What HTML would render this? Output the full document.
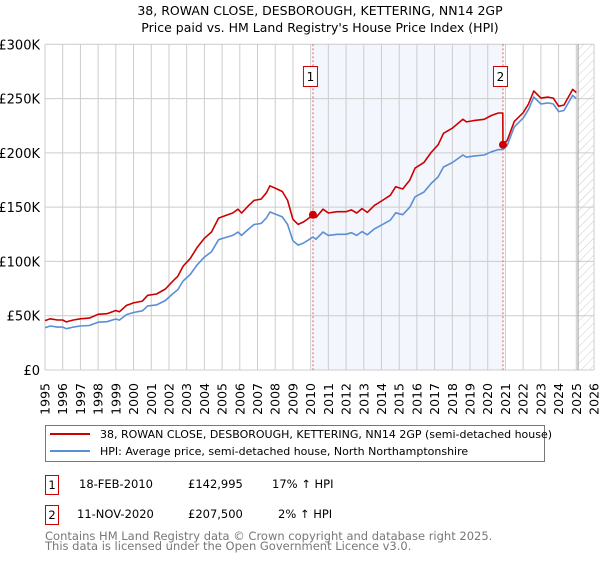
<!DOCTYPE html>
<html><head><meta charset="utf-8"><style>
body{margin:0;background:#fff;font-family:"Liberation Sans","DejaVu Sans",sans-serif;}
svg text{font-family:"DejaVu Sans","Liberation Sans",sans-serif;}
</style></head><body>
<svg width="600" height="560" xmlns="http://www.w3.org/2000/svg">
<defs><pattern id="hatch" width="6" height="6" patternUnits="userSpaceOnUse" patternTransform="rotate(45)"><line x1="0" y1="0" x2="0" y2="6" stroke="#ccc" stroke-width="1"/></pattern></defs>
<text x="320" y="15" text-anchor="middle" font-size="12.5">38, ROWAN CLOSE, DESBOROUGH, KETTERING, NN14 2GP</text>
<text x="320" y="32" text-anchor="middle" font-size="12.5">Price paid vs. HM Land Registry's House Price Index (HPI)</text>
<g id="plot"></g>
<g>
<rect x="45.5" y="425.5" width="499" height="36" fill="#fff" stroke="#777"/>
<line x1="50" y1="434" x2="90" y2="434" stroke="#cc0000" stroke-width="2"/>
<text x="100" y="438" font-size="11">38, ROWAN CLOSE, DESBOROUGH, KETTERING, NN14 2GP (semi-detached house)</text>
<line x1="50" y1="451" x2="90" y2="451" stroke="#5b8fd4" stroke-width="2"/>
<text x="100" y="455" font-size="11">HPI: Average price, semi-detached house, North Northamptonshire</text>
</g>
<g font-size="11.5">
<rect x="45.5" y="475.5" width="13" height="19" fill="#fff" stroke="#cc0000"/>
<text x="52" y="489" text-anchor="middle">1</text>
<text x="79" y="488">18-FEB-2010</text>
<text x="188" y="488">£142,995</text>
<text x="272" y="488">17% ↑ HPI</text>
<rect x="45.5" y="505.5" width="13" height="19" fill="#fff" stroke="#cc0000"/>
<text x="52" y="519" text-anchor="middle">2</text>
<text x="77" y="518">11-NOV-2020</text>
<text x="188" y="518">£207,500</text>
<text x="278" y="518">2% ↑ HPI</text>
</g>
<text x="45" y="540" font-size="11.5" fill="#777">Contains HM Land Registry data © Crown copyright and database right 2025.</text>
<text x="45" y="550" font-size="11.5" fill="#777">This data is licensed under the Open Government Licence v3.0.</text>
</svg>
<script>
const hpiYears=[1995.0,1995.3,1995.7,1996.0,1996.2,1996.6,1997.0,1997.5,1998.0,1998.5,1999.0,1999.2,1999.6,2000.0,2000.5,2000.8,2001.3,2001.8,2002.2,2002.5,2002.8,2003.2,2003.6,2004.0,2004.4,2004.8,2005.2,2005.6,2005.9,2006.1,2006.5,2006.8,2007.2,2007.5,2007.7,2008.1,2008.4,2008.7,2009.0,2009.3,2009.6,2009.9,2010.13,2010.3,2010.7,2011.0,2011.5,2012.0,2012.3,2012.6,2012.9,2013.2,2013.6,2014.0,2014.5,2014.8,2015.2,2015.6,2015.9,2016.4,2016.8,2017.2,2017.5,2018.0,2018.6,2018.8,2019.2,2019.8,2020.2,2020.6,2020.86,2021.1,2021.5,2022.0,2022.3,2022.6,2023.0,2023.4,2023.7,2024.0,2024.3,2024.8,2025.0];
const hpiValues=[39,40.5,39.5,39.5,38,39.5,40.5,41,44,44.5,47,46,51,53,54.5,59,60,64,70,74,82,88,97,104,109,120,122,124,127,124,130,134,135,140,145.5,143,141,134,119,115,117,120,122.5,120.5,127,124,125,125,126.5,124,127.5,124.5,130,133.5,138,144.8,143,150,159.5,164,171.8,178,187,191,198,196,197,198,201,203,203,207,224,232,240,251.5,245,246,245,238,239,253,250];
const redYears=[1995.0,1995.3,1995.7,1996.0,1996.2,1996.6,1997.0,1997.5,1998.0,1998.5,1999.0,1999.2,1999.6,2000.0,2000.5,2000.8,2001.3,2001.8,2002.2,2002.5,2002.8,2003.2,2003.6,2004.0,2004.4,2004.8,2005.2,2005.6,2005.9,2006.1,2006.5,2006.8,2007.2,2007.5,2007.7,2008.1,2008.4,2008.7,2009.0,2009.3,2009.6,2009.9,2010.13,2010.3,2010.7,2011.0,2011.5,2012.0,2012.3,2012.6,2012.9,2013.2,2013.6,2014.0,2014.5,2014.8,2015.2,2015.6,2015.9,2016.4,2016.8,2017.2,2017.5,2018.0,2018.6,2018.8,2019.2,2019.8,2020.2,2020.6,2020.85,2020.86,2021.1,2021.5,2022.0,2022.3,2022.6,2023.0,2023.4,2023.7,2024.0,2024.3,2024.8,2025.0];
const redValues=[45.5,47.2,46.1,46.1,44.3,46.1,47.2,47.8,51.3,51.9,54.8,53.6,59.5,61.8,63.5,68.8,70,74.6,81.6,86.3,95.6,102.6,113.1,121.3,127.1,139.9,142.3,144.6,148.1,144.6,151.6,156.2,157.4,163.2,169.7,166.7,164.4,156.2,138.8,134.1,136.4,139.9,143,140.5,148.1,144.6,145.8,145.8,147.5,144.6,148.7,145.2,151.6,155.7,160.9,168.8,166.7,174.9,186,191.2,200.3,207.5,218,222.7,230.9,228.5,229.7,230.9,234.4,236.7,236.7,207.5,211.5,229,237,245,257,250.4,251.4,250.4,243,244,258.5,255.5];
const saleYears=[2010.13,2020.86];
const saleValues=[142.995,207.5];
const saleLabels=["1","2"];
const yTicks=[0,50,100,150,200,250,300];
const yTickLabels=["£0","£50K","£100K","£150K","£200K","£250K","£300K"];
const xTicks=[1995,1996,1997,1998,1999,2000,2001,2002,2003,2004,2005,2006,2007,2008,2009,2010,2011,2012,2013,2014,2015,2016,2017,2018,2019,2020,2021,2022,2023,2024,2025,2026];

const X0=45,X1=594,Y0=370,Y1=44.3;
const xs=y=>X0+(y-1995)/(2026-1995)*(X1-X0);
const ys=v=>Y0-v/300*(Y0-Y1);
const NS="http://www.w3.org/2000/svg";
const plot=document.getElementById('plot');
function mk(tag,attrs,parent){const e=document.createElementNS(NS,tag);for(const k in attrs)e.setAttribute(k,attrs[k]);(parent||plot).appendChild(e);return e;}

let r=mk('rect',{x:xs(saleYears[0]),y:Y1,width:xs(saleYears[1])-xs(saleYears[0]),height:Y0-Y1,fill:'#f3f6fd'});


let h=mk('rect',{x:xs(2025.1),y:Y1,width:X1-xs(2025.1),height:Y0-Y1,fill:'url(#hatch)'});



xTicks.forEach(t=>{const l=mk('line',{x1:xs(t),x2:xs(t),y1:Y1,y2:Y0,stroke:'#ccc','stroke-width':1});


const tx=mk('text',{x:0,y:0,'font-size':12.5,'text-anchor':'end',transform:`translate(${xs(t)+4.5},${Y0+13}) rotate(-90)`});
tx.textContent=t;

});
yTicks.forEach((t,i)=>{const l=mk('line',{x1:X0,x2:X1,y1:ys(t),y2:ys(t),stroke:'#ccc','stroke-width':1});


const tx=mk('text',{x:40,y:ys(t)+5,'font-size':13,'text-anchor':'end'});
tx.textContent=yTickLabels[i];

});
let gl=mk('line',{x1:xs(2025.1),x2:xs(2025.1),y1:Y1,y2:Y0,stroke:'#999','stroke-width':1});



saleYears.forEach((s,i)=>{const l=mk('line',{x1:xs(s),x2:xs(s),y1:Y1,y2:Y0,stroke:'#e06060','stroke-width':1,'stroke-dasharray':'2,2'});


const b=mk('rect',{x:xs(s)-9.5,y:66.5,width:14,height:20,fill:'#fff',stroke:'#cc0000'});


const t=mk('text',{x:xs(s)-2.5,y:81,'font-size':12,'text-anchor':'middle'});
t.textContent=saleLabels[i];

});

const pts=(a,b)=>a.map((y,i)=>xs(y).toFixed(1)+','+ys(b[i]).toFixed(1)).join(' ');
let hp=mk('polyline',{points:pts(hpiYears,hpiValues),fill:'none',stroke:'#5b8fd4','stroke-width':1.6,'stroke-linejoin':'round'});


let rp=mk('polyline',{points:pts(redYears,redValues),fill:'none',stroke:'#cc0000','stroke-width':1.6,'stroke-linejoin':'round'});


saleYears.forEach((s,i)=>{const c=mk('circle',{cx:xs(s),cy:ys(saleValues[i]),r:4,fill:'#cc0000'});

});
</script>
</body></html>
